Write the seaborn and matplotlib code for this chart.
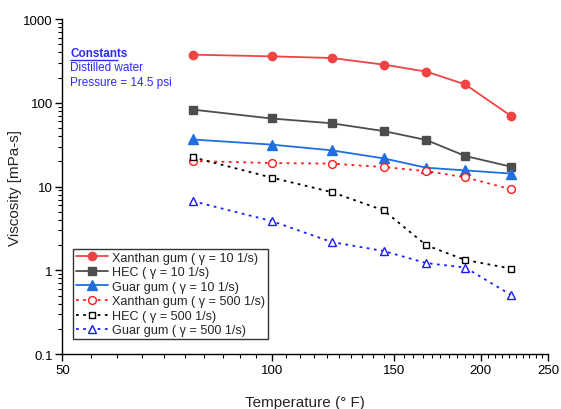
import numpy as np
import pandas as pd
import matplotlib
matplotlib.use("Agg")
import matplotlib.pyplot as plt
from matplotlib.ticker import FixedLocator, NullFormatter, FixedFormatter
import seaborn as sns

sns.set_theme(style="ticks")
plt.rcParams["font.family"] = ["Liberation Sans", "DejaVu Sans"]

# Temperatures (°F)
temperature = [77, 100, 122, 145, 167, 190, 221]

# Viscosity (mPa-s) at shear rate 10 1/s
xanthan_10 = [376, 359, 343, 286, 236, 166, 70]
hec_10 = [83, 65, 57, 46, 36, 23.2, 17.3]
guar_10 = [36.5, 31.7, 27.1, 21.7, 16.8, 15.6, 14.3]

# Viscosity (mPa-s) at shear rate 500 1/s
xanthan_500 = [20.2, 19.1, 18.8, 17.1, 15.3, 12.9, 9.3]
hec_500 = [22.4, 12.8, 8.6, 5.2, 1.99, 1.33, 1.05]
guar_500 = [6.7, 3.88, 2.18, 1.70, 1.22, 1.08, 0.51]

labels = [
    "Xanthan gum ( \u03b3 = 10 1/s)",
    "HEC ( \u03b3 = 10 1/s)",
    "Guar gum ( \u03b3 = 10 1/s)",
    "Xanthan gum ( \u03b3 = 500 1/s)",
    "HEC ( \u03b3 = 500 1/s)",
    "Guar gum ( \u03b3 = 500 1/s)",
]
values = [xanthan_10, hec_10, guar_10, xanthan_500, hec_500, guar_500]

dotted = (0, (1.5, 2.5))
styles = [
    dict(color="#f04343", marker="o", ls="-", mfc="#f04343", ms=6.0),
    dict(color="#4d4d4d", marker="s", ls="-", mfc="#4d4d4d", ms=5.3),
    dict(color="#1f6ee0", marker="^", ls="-", mfc="#1f6ee0", ms=6.5),
    dict(color="#ff1a1a", marker="o", ls=dotted, mfc="white", ms=5.6),
    dict(color="#000000", marker="s", ls=dotted, mfc="white", ms=5.0),
    dict(color="#1a1aff", marker="^", ls=dotted, mfc="white", ms=6.2),
]

fig = plt.figure(figsize=(5.61, 4.10), dpi=100)
ax = fig.add_axes([0.1114, 0.134, 0.8654, 0.817])

for lab, vals, st in zip(labels, values, styles):
    df = pd.DataFrame({"T": temperature, "V": vals})
    sns.lineplot(data=df, x="T", y="V", ax=ax, label=lab,
                 color=st["color"], marker=st["marker"], linestyle=st["ls"],
                 linewidth=1.3, markersize=st["ms"],
                 markerfacecolor=st["mfc"], markeredgecolor=st["color"],
                 markeredgewidth=1.0)

ax.set_xscale("log")
ax.set_yscale("log")
ax.set_xlim(50, 250)
ax.set_ylim(0.1, 1000)

major_x = [50, 100, 150, 200, 250]
ax.xaxis.set_major_locator(FixedLocator(major_x))
ax.xaxis.set_major_formatter(FixedFormatter([str(v) for v in major_x]))
ax.xaxis.set_minor_locator(FixedLocator([v for v in range(55, 250, 5) if v not in major_x]))
ax.xaxis.set_minor_formatter(NullFormatter())

ax.set_yticks([0.1, 1, 10, 100, 1000])
ax.set_yticklabels(["0.1", "1", "10", "100", "1000"])

for s in ["top", "right"]:
    ax.spines[s].set_visible(False)
for s in ["left", "bottom"]:
    ax.spines[s].set_color("black")
    ax.spines[s].set_linewidth(1.0)

ax.tick_params(which="major", direction="out", length=5, width=1, labelsize=9.5,
               colors="black", pad=2)
ax.tick_params(which="minor", direction="out", length=3, width=0.8, colors="black")

ax.set_xlabel("Temperature (\u00b0 F)", fontsize=11, labelpad=14)
ax.set_ylabel("Viscosity [mPa-s]", fontsize=11, labelpad=1)

ax.grid(False)
ax.set_facecolor("white")

leg = ax.legend(loc="lower left", bbox_to_anchor=(0.0216, 0.045), fontsize=9.1,
                frameon=True, fancybox=False, edgecolor="black",
                handlelength=2.6, handletextpad=0.3, borderpad=0.2,
                labelspacing=0.2, borderaxespad=0)
leg.get_frame().set_linewidth(1.0)

blue = "#2b2bff"
ax.text(0.0155, 0.8985, "Constants", transform=ax.transAxes, fontsize=8.5,
        color=blue, fontweight="bold", va="center", ha="left")
ax.plot([0.0155, 0.1145], [0.879, 0.879], transform=ax.transAxes, color=blue,
        linewidth=1.0, solid_capstyle="butt")
ax.text(0.0155, 0.857, "Distilled water", transform=ax.transAxes, fontsize=8.5,
        color=blue, va="center", ha="left")
ax.text(0.0155, 0.812, "Pressure = 14.5 psi", transform=ax.transAxes, fontsize=8.5,
        color=blue, va="center", ha="left")

fig.savefig("out.png", dpi=100)
